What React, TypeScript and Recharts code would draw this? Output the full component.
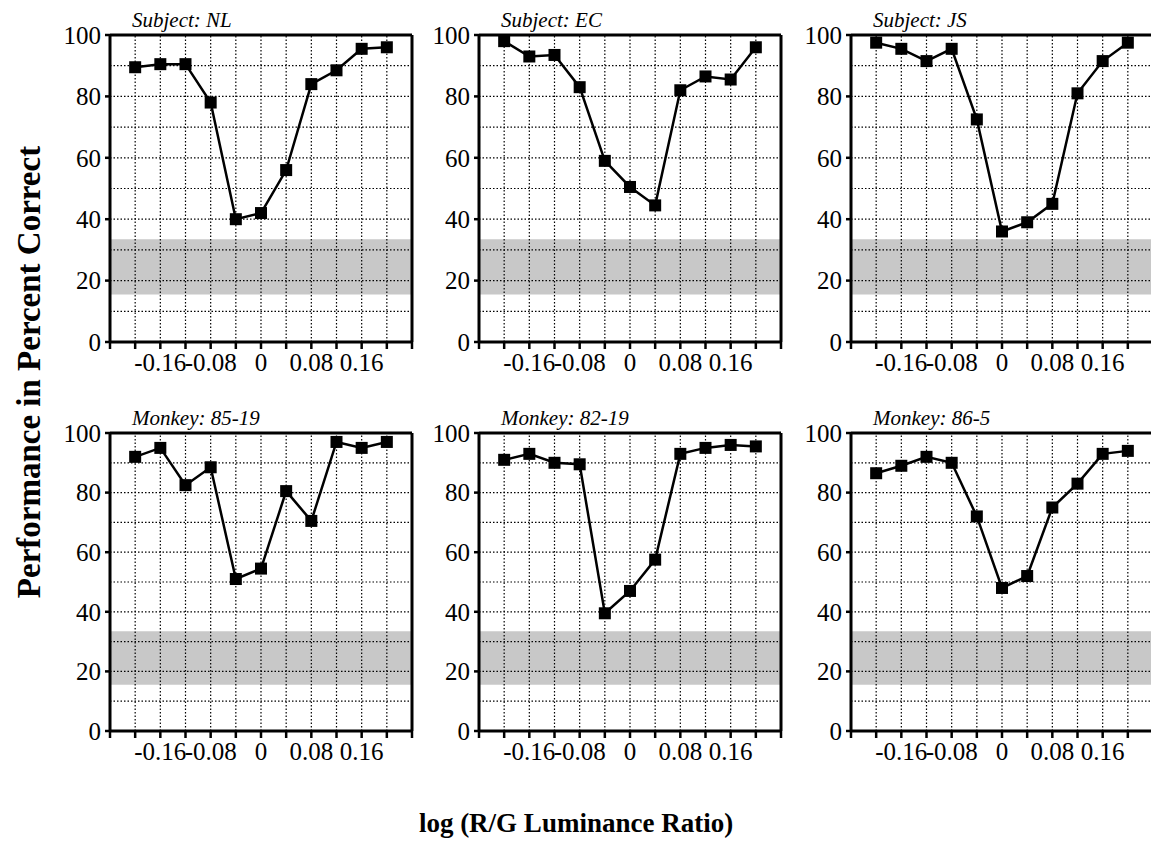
import { LineChart, Line, XAxis, YAxis, ReferenceArea, ReferenceLine } from 'recharts';

const xValues = [-0.2, -0.16, -0.12, -0.08, -0.04, 0, 0.04, 0.08, 0.12, 0.16, 0.2];

const nlValues = [89.5, 90.5, 90.5, 78, 40, 42, 56, 84, 88.5, 95.5, 96];
const ecValues = [98, 93, 93.5, 83, 59, 50.5, 44.5, 82, 86.5, 85.5, 96];
const jsValues = [97.5, 95.5, 91.5, 95.5, 72.5, 36, 39, 45, 81, 91.5, 97.5];
const m8519Values = [92, 95, 82.5, 88.5, 51, 54.5, 80.5, 70.5, 97, 95, 97];
const m8219Values = [91, 93, 90, 89.5, 39.5, 47, 57.5, 93, 95, 96, 95.5];
const m865Values = [86.5, 89, 92, 90, 72, 48, 52, 75, 83, 93, 94];

const xTicks = [-0.24, -0.2, -0.16, -0.12, -0.08, -0.04, 0, 0.04, 0.08, 0.12, 0.16, 0.2, 0.24];
const xLabelTicks = [-0.16, -0.08, 0, 0.08, 0.16];
const xGrid = [-0.2, -0.16, -0.12, -0.08, -0.04, 0, 0.04, 0.08, 0.12, 0.16, 0.2];
const yTicks = [0, 20, 40, 60, 80, 100];
const yGrid = [10, 20, 30, 40, 50, 60, 70, 80, 90];
const chanceBand = [15.5, 33.5];

const FONT = 'Liberation Serif, Times New Roman, serif';
const PLOT_W = 302;

const panels = [
  { title: 'Subject: NL', values: nlValues, left: 110, top: 35, h: 307 },
  { title: 'Subject: EC', values: ecValues, left: 479, top: 35, h: 307 },
  { title: 'Subject: JS', values: jsValues, left: 851, top: 35, h: 307 },
  { title: 'Monkey: 85-19', values: m8519Values, left: 110, top: 433, h: 298 },
  { title: 'Monkey: 82-19', values: m8219Values, left: 479, top: 433, h: 298 },
  { title: 'Monkey: 86-5', values: m865Values, left: 851, top: 433, h: 298 },
];

function formatX(v: number) {
  if (!xLabelTicks.some((t) => Math.abs(t - v) < 1e-9)) return '';
  if (Math.abs(v) < 1e-9) return '0';
  return v.toFixed(2);
}

const squareDot = (props: any) => (
  <rect key={`sq-${props.index}`} x={props.cx - 6} y={props.cy - 6} width={12} height={12} fill="#000" />
);

function Panel({ values, left, top, h }: { values: number[]; left: number; top: number; h: number }) {
  const data = xValues.map((x, i) => ({ x, y: values[i] }));
  return (
    <div style={{ position: 'absolute', left: left - 60, top: top - 35 }}>
      <LineChart width={60 + PLOT_W + 10} height={35 + h + 45} data={data} margin={{ top: 35, right: 10, left: 0, bottom: 0 }}>
        <XAxis
          dataKey="x"
          type="number"
          domain={[-0.24, 0.24]}
          ticks={xTicks}
          interval={0}
          tickFormatter={formatX}
          height={45}
          tickSize={7}
          tickMargin={4}
          axisLine={{ stroke: '#000', strokeWidth: 3 }}
          tickLine={{ stroke: '#000', strokeWidth: 2.5 }}
          tick={{ fontSize: 25, fill: '#000', fontFamily: FONT }}
          allowDataOverflow
        />
        <YAxis
          type="number"
          domain={[0, 100]}
          ticks={yTicks}
          interval={0}
          width={60}
          tickSize={5}
          tickMargin={4}
          axisLine={{ stroke: '#000', strokeWidth: 3 }}
          tickLine={{ stroke: '#000', strokeWidth: 2.5 }}
          tick={{ fontSize: 25, fill: '#000', fontFamily: FONT }}
        />
        <ReferenceArea y1={chanceBand[0]} y2={chanceBand[1]} fill="#c8c8c8" fillOpacity={1} stroke="none" />
        {yGrid.map((v) => (
          <ReferenceLine key={`gy${v}`} y={v} stroke="#000" strokeWidth={1.2} strokeDasharray="1.5 2" />
        ))}
        {xGrid.map((v) => (
          <ReferenceLine key={`gx${v}`} x={v} stroke="#000" strokeWidth={1.2} strokeDasharray="1.5 2" />
        ))}
        <ReferenceLine y={100} stroke="#000" strokeWidth={3} />
        <ReferenceLine x={0.24} stroke="#000" strokeWidth={3} />
        <Line
          dataKey="y"
          type="linear"
          stroke="#000"
          strokeWidth={2.5}
          dot={squareDot}
          activeDot={false}
          isAnimationActive={false}
        />
      </LineChart>
    </div>
  );
}

export default function App() {
  return (
    <div style={{ position: 'fixed', left: 0, top: 0, width: 1151, height: 848, background: '#fff', overflow: 'hidden' }}>
      {panels.map((p) => (
        <Panel key={p.title} values={p.values} left={p.left} top={p.top} h={p.h} />
      ))}
      <svg width={1151} height={848} style={{ position: 'absolute', left: 0, top: 0, pointerEvents: 'none' }}>
        {panels.map((p) => (
          <text key={p.title} x={p.left + 22} y={p.top - 8} fontFamily={FONT} fontStyle="italic" fontSize={21} fill="#000">
            {p.title}
          </text>
        ))}
        <text x={576} y={832} textAnchor="middle" fontFamily={FONT} fontWeight="bold" fontSize={27} fill="#000">
          log (R/G Luminance Ratio)
        </text>
        <text
          transform="translate(40,372) rotate(-90)"
          textAnchor="middle"
          fontFamily={FONT}
          fontWeight="bold"
          fontSize={33}
          fill="#000"
        >
          Performance in Percent Correct
        </text>
      </svg>
    </div>
  );
}
